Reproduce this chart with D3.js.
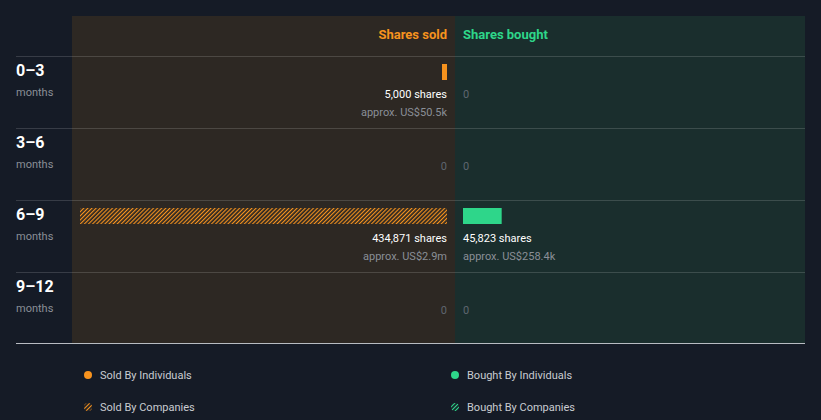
<!DOCTYPE html>
<html><head><meta charset="utf-8">
<script src="https://cdn.jsdelivr.net/npm/d3@7"></script>
<style>
html,body{margin:0;padding:0;background:#151b26;}
svg{display:block;font-family:Roboto,"Open Sans",sans-serif;}
</style></head>
<body><svg id="c" width="821" height="420"></svg>
<script>
const periods = ["0\u20133", "3\u20136", "6\u20139", "9\u201312"];
const soldIndividuals = [5000, 0, 0, 0];
const soldCompanies = [0, 0, 434871, 0];
const boughtIndividuals = [0, 0, 45823, 0];
const boughtCompanies = [0, 0, 0, 0];
const soldValueLabels = ["US$50.5k", "", "US$2.9m", ""];
const boughtValueLabels = ["", "", "US$258.4k", ""];
const legendItems = ["Sold By Individuals", "Bought By Individuals", "Sold By Companies", "Bought By Companies"];

(function () {
const ORANGE = "#f7931e", GREEN = "#2ed68a";
const svg = d3.select("#c");
const W = 821;
svg.append("rect").attr("width", W).attr("height", 420).attr("fill", "#151b26");

const defs = svg.append("defs");
function hatch(id, color, bg) {
  const p = defs.append("pattern").attr("id", id).attr("patternUnits", "userSpaceOnUse")
    .attr("width", 2.9).attr("height", 4).attr("patternTransform", "rotate(45)");
  p.append("rect").attr("width", 2.9).attr("height", 4).attr("fill", bg);
  p.append("rect").attr("width", 1.1).attr("height", 4).attr("fill", color);
}
hatch("hs", ORANGE, "#2d2823");
hatch("hb", GREEN, "#1a2e2d");
hatch("hsl", ORANGE, "#151b26");
hatch("hbl", GREEN, "#151b26");

const midX = 455, leftX = 72, rightX = 805, topY = 16, bottomY = 343;
svg.append("rect").attr("x", leftX).attr("y", topY).attr("width", midX - leftX).attr("height", bottomY - topY).attr("fill", "#2d2823");
svg.append("rect").attr("x", midX).attr("y", topY).attr("width", rightX - midX).attr("height", bottomY - topY).attr("fill", "#1a2e2d");

svg.append("text").attr("x", 447).attr("y", 39).attr("text-anchor", "end").attr("fill", ORANGE)
  .attr("font-size", 13).attr("font-weight", 700).text("Shares sold");
svg.append("text").attr("x", 463).attr("y", 39).attr("fill", GREEN)
  .attr("font-size", 13).attr("font-weight", 700).text("Shares bought");

const y = d3.scaleBand().domain(periods).range([56, 344]);
const maxV = d3.max([...soldIndividuals, ...soldCompanies, ...boughtIndividuals, ...boughtCompanies]);
const x = d3.scaleLinear().domain([0, maxV]).range([0, 367]);
const fmt = d3.format(",");

periods.forEach((p, i) => {
  const ty = y(p);
  svg.append("line").attr("x1", 16).attr("x2", rightX).attr("y1", ty + 0.5).attr("y2", ty + 0.5)
    .attr("stroke", "rgba(255,255,255,0.15)");
  svg.append("text").attr("x", 16).attr("y", ty + 20).attr("fill", "#fff").attr("font-size", 16)
    .attr("font-weight", 700).text(p);
  svg.append("text").attr("x", 16).attr("y", ty + 40).attr("fill", "#8a8f97").attr("font-size", 11).text("months");

  const si = soldIndividuals[i], sc = soldCompanies[i];
  const sTot = si + sc;
  if (sTot > 0) {
    let cx = 447;
    if (si > 0) { const w = Math.max(5, x(si)); svg.append("rect").attr("x", cx - w).attr("y", ty + 8).attr("width", w).attr("height", 16).attr("fill", ORANGE); cx -= w; }
    if (sc > 0) { const w = Math.max(5, x(sc)); svg.append("rect").attr("x", cx - w).attr("y", ty + 8).attr("width", w).attr("height", 16).attr("fill", "url(#hs)"); cx -= w; }
    svg.append("text").attr("x", 447).attr("y", ty + 42).attr("text-anchor", "end").attr("fill", "#fff").attr("font-size", 11).text(fmt(sTot) + " shares");
    svg.append("text").attr("x", 447).attr("y", ty + 60).attr("text-anchor", "end").attr("fill", "#8a8f97").attr("font-size", 11).text("approx. " + soldValueLabels[i]);
  } else {
    svg.append("text").attr("x", 447).attr("y", ty + 42).attr("text-anchor", "end").attr("fill", "#5f6670").attr("font-size", 11).text("0");
  }
  const bi = boughtIndividuals[i], bc = boughtCompanies[i];
  const bTot = bi + bc;
  if (bTot > 0) {
    let cx = 463;
    if (bi > 0) { const w = Math.max(5, x(bi)); svg.append("rect").attr("x", cx).attr("y", ty + 8).attr("width", w).attr("height", 16).attr("fill", GREEN); cx += w; }
    if (bc > 0) { const w = Math.max(5, x(bc)); svg.append("rect").attr("x", cx).attr("y", ty + 8).attr("width", w).attr("height", 16).attr("fill", "url(#hb)"); cx += w; }
    svg.append("text").attr("x", 463).attr("y", ty + 42).attr("fill", "#fff").attr("font-size", 11).text(fmt(bTot) + " shares");
    svg.append("text").attr("x", 463).attr("y", ty + 60).attr("fill", "#8a8f97").attr("font-size", 11).text("approx. " + boughtValueLabels[i]);
  } else {
    svg.append("text").attr("x", 463).attr("y", ty + 42).attr("fill", "#5f6670").attr("font-size", 11).text("0");
  }
});

svg.append("line").attr("x1", 16).attr("x2", rightX).attr("y1", bottomY + 0.5).attr("y2", bottomY + 0.5)
  .attr("stroke", "#b8bcc2");

const legColors = [ORANGE, GREEN, "url(#hsl)", "url(#hbl)"];
legendItems.forEach((t, i) => {
  const lx = i % 2 === 0 ? 88 : 455;
  const ly = i < 2 ? 375 : 407;
  const g = svg.append("g");
  g.append("circle").attr("cx", lx).attr("cy", ly).attr("r", 4).attr("fill", legColors[i]);
  g.append("text").attr("x", lx + 12).attr("y", ly + 4).attr("fill", "#c9ccd1").attr("font-size", 11).text(t);
});
})();
</script></body></html>
